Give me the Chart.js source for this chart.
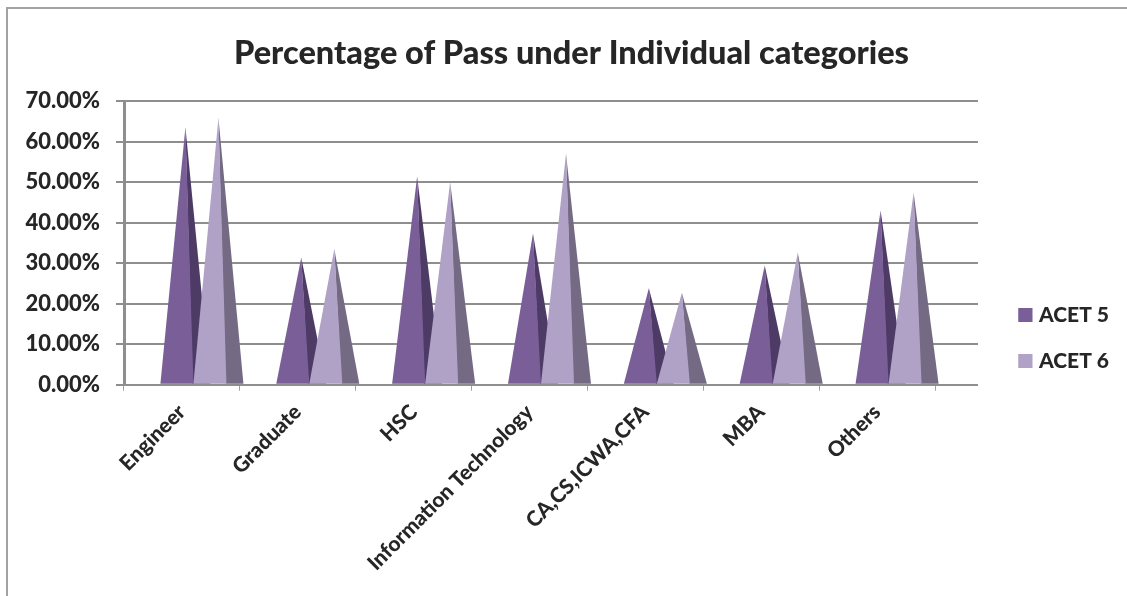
<!DOCTYPE html>
<html><head><meta charset="utf-8">
<style>
html,body{margin:0;padding:0;background:#fff;width:1127px;height:596px;overflow:hidden}
#frame{position:absolute;left:6px;top:7px;width:1127px;height:596px;border-top:2px solid #a3a3a3;border-left:2px solid #a3a3a3;box-sizing:border-box}
#wrap{position:absolute;left:0;top:0;width:1127px;height:596px}
</style>
<script src="https://cdn.jsdelivr.net/npm/chart.js@4"></script>
</head><body>
<div id="frame"></div>
<div id="wrap"><canvas id="c" width="1127" height="596"></canvas></div>
<script>
const categories = ['Engineer','Graduate','HSC','Information Technology','CA,CS,ICWA,CFA','MBA','Others'];
const acet5 = [63.5,31.4,51.4,37.3,23.8,29.4,43.0];
const acet6 = [65.8,33.5,50.0,57.0,22.7,32.6,47.4];
const seriesNames = ['ACET 5','ACET 6'];
const frontColors = ['#795e97','#b0a1c6'];
const sideColors = ['#4d3b66','#746a84'];
const yTicks = [0,10,20,30,40,50,60,70];

const GRID = '#8e8e8e', TEXT = '#262626', FONT = 'Lato';
const PLOT = {left:124, axisRight:935, gridRight:978, top:101.5, bottom:384.7};
const SHIFT = 11.5, DEPTH = 17;

const layoutFix = {
  id:'layoutFix',
  afterLayout(chart){
    const a = chart.chartArea, x = chart.scales.x, l = chart.legend, t = chart.titleBlock;
    a.right = PLOT.gridRight; a.width = a.right - a.left;
    x.right = PLOT.axisRight; x.width = x.right - x.left; x.configure();
    const h = l.bottom - l.top, w = l.right - l.left;
    l.left = 993.5; l.right = l.left + w;
    l.top = 338 - h/2; l.bottom = l.top + h;
    t.left += 8; t.right += 8;
  },
  afterDraw(chart){
    const ctx = chart.ctx;
    chart.legend.legendHitBoxes.forEach((hb,i)=>{
      ctx.fillStyle = frontColors[i];
      ctx.fillRect(hb.left, hb.top + (hb.height-14)/2, 14, 14);
    });
  }
};
const cones = {
  id:'cones',
  beforeDatasetsDraw(chart){
    const ctx = chart.ctx;
    chart.data.datasets.forEach((ds,i)=>{
      chart.getDatasetMeta(i).data.forEach(el=>{
        const l = el.x - el.width/2 + SHIFT, r = l + el.width, apex = l + (el.width + DEPTH)/2;
        ctx.fillStyle = sideColors[i];
        ctx.beginPath(); ctx.moveTo(apex,el.y); ctx.lineTo(r+DEPTH,el.base); ctx.lineTo(r-1,el.base); ctx.closePath(); ctx.fill();
        ctx.fillStyle = frontColors[i];
        ctx.beginPath(); ctx.moveTo(apex,el.y); ctx.lineTo(r,el.base); ctx.lineTo(l,el.base); ctx.closePath(); ctx.fill();
      });
    });
    return false;
  }
};

new Chart(document.getElementById('c'),{
  type:'bar',
  data:{labels:categories,datasets:[
    {label:seriesNames[0],data:acet5,backgroundColor:frontColors[0],borderWidth:0},
    {label:seriesNames[1],data:acet6,backgroundColor:frontColors[1],borderWidth:0}
  ]},
  plugins:[layoutFix,cones],
  options:{
    responsive:false,animation:false,
    layout:{padding:0},
    categoryPercentage:0.57,barPercentage:1,
    plugins:{
      tooltip:{enabled:false},
      title:{display:true,text:'Percentage of Pass under Individual categories',color:TEXT,
        font:{family:FONT,size:32.5,weight:'900'},padding:{top:34,bottom:28}},
      legend:{position:'right',labels:{boxWidth:10,boxHeight:14,padding:25,color:TEXT,
        font:{family:FONT,size:21,weight:'900',lineHeight:1.75}}}
    },
    scales:{
      x:{
        afterFit(s){s.height = 596 - PLOT.bottom;},
        grid:{drawOnChartArea:false,drawTicks:true,tickLength:6,tickColor:'#a0a0a0',offset:true},
        border:{color:GRID,width:2},
        ticks:{maxRotation:45,minRotation:45,autoSkip:false,color:TEXT,padding:9,font:{family:FONT,size:21,weight:'900'}}
      },
      y:{
        min:0,max:70,
        afterFit(s){s.width = PLOT.left;},
        afterBuildTicks(s){s.ticks = yTicks.map(v=>({value:v}));},
        grid:{color:GRID,lineWidth:2,tickLength:8,tickColor:GRID},
        border:{color:GRID,width:3},
        ticks:{padding:16,color:TEXT,font:{family:FONT,size:22,weight:'900'},callback:v=>v.toFixed(2)+'%'}
      }
    }
  }
});
</script>
</body></html>
